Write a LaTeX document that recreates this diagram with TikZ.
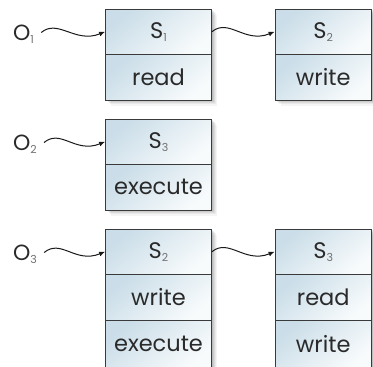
\documentclass[tikz,border=0pt]{standalone}
\usepackage{fontspec}
\setmainfont{Poppins}
\usetikzlibrary{arrows.meta,shadows}

\definecolor{cellblue}{HTML}{CADDE8}
\definecolor{cellwhite}{HTML}{F8FBFC}
\definecolor{edgegray}{HTML}{3A3A3A}
\definecolor{inkgray}{HTML}{2A2A2A}
\definecolor{subgray}{HTML}{707070}

% lowered, lighter index of S_i and O_i
\newcommand{\lowidx}[1]{\raisebox{-3pt}{\fontsize{11}{11}\selectfont\color{subgray}#1}}

\tikzset{
  softshadow/.style={
    general shadow={shadow xshift=1pt, shadow yshift=-1pt, fill=black, opacity=0.07},
    general shadow={shadow xshift=2pt, shadow yshift=-2pt, fill=black, opacity=0.07},
    general shadow={shadow xshift=3pt, shadow yshift=-3pt, fill=black, opacity=0.06},
    general shadow={shadow xshift=4pt, shadow yshift=-4pt, fill=black, opacity=0.05},
    general shadow={shadow xshift=5.5pt, shadow yshift=-5.5pt, fill=black, opacity=0.04}},
  cell/.style={draw=edgegray, line width=0.8pt, inner sep=0pt,
    minimum width=106pt, minimum height=45.5pt,
    top color=cellblue, bottom color=cellwhite, shading angle=40,
    text=inkgray, font=\fontsize{22.5}{22.5}\selectfont, softshadow},
  narrowcell/.style={cell, minimum width=96.5pt},
  lastcell/.style={minimum height=48pt},
  olabel/.style={anchor=west, inner sep=0pt,
    text height=15pt, text depth=0pt, text=inkgray,
    font=\fontsize{22}{22}\selectfont},
  wave/.style={draw=black!90, line width=1pt,
    -{Latex[length=6pt,width=5pt]},
    to path={.. controls +(17,-14) and +(-30,12) .. (\tikztotarget)}}
}

\begin{document}
\begin{tikzpicture}[x=1pt,y=-1pt]
  \useasboundingbox (0,0) rectangle (373,367);

  % object O1: S1 {read} -> S2 {write}
  \node[olabel] (o1) at (13,33) {O\lowidx{1}};
  \node[cell] (a1) at (158.5,31.75) {S\lowidx{1}};
  \node[cell] (a1r) at (158.5,77.25) {read};
  \node[narrowcell] (b1) at (323.25,31.75) {S\lowidx{2}};
  \node[narrowcell] (b1r) at (323.25,77.25) {write};

  % object O2: S3 {execute}
  \node[olabel] (o2) at (13,143) {O\lowidx{2}};
  \node[cell] (a2) at (158.5,141.75) {S\lowidx{3}};
  \node[cell] (a2r) at (158.5,187.25) {execute};

  % object O3: S2 {write, execute} -> S3 {read, write}
  \node[olabel] (o3) at (13,253) {O\lowidx{3}};
  \node[cell] (a3) at (158.5,251.75) {S\lowidx{2}};
  \node[cell] (a3r) at (158.5,297.25) {write};
  \node[cell,lastcell] (a3x) at (158.5,344) {execute};
  \node[narrowcell] (b3) at (323.25,251.75) {S\lowidx{3}};
  \node[narrowcell] (b3r) at (323.25,297.25) {read};
  \node[narrowcell,lastcell] (b3w) at (323.25,344) {write};

  % list links
  \draw[wave] ([xshift=7pt,yshift=0.5pt]o1.east) to (a1.west);
  \draw[wave] (a1.east) to (b1.west);
  \draw[wave] ([xshift=7pt,yshift=0.5pt]o2.east) to (a2.west);
  \draw[wave] ([xshift=7pt,yshift=0.5pt]o3.east) to (a3.west);
  \draw[wave] (a3.east) to (b3.west);
\end{tikzpicture}
\end{document}
